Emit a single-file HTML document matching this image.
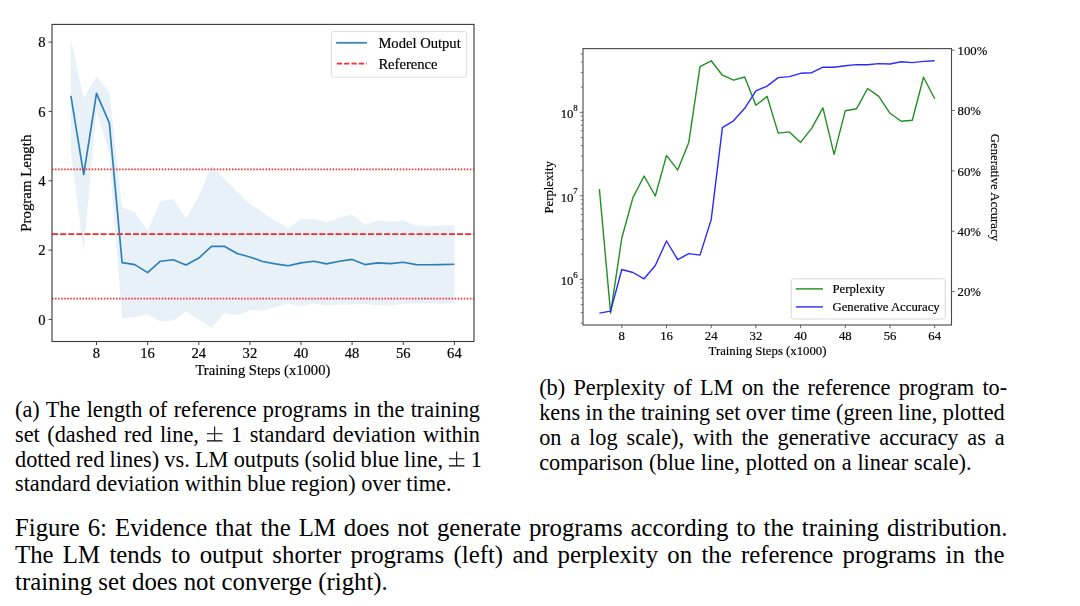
<!DOCTYPE html>
<html><head><meta charset="utf-8"><title>Figure 6</title>
<style>
html,body{margin:0;padding:0;background:#fff;}
body{width:1080px;height:606px;position:relative;overflow:hidden;font-family:"Liberation Serif",serif;color:#000;}
#charts{position:absolute;left:0;top:0;filter:blur(0.45px);}
#charts text{font-family:"Liberation Serif",serif;fill:#000;stroke:#000;stroke-width:0.18px;}
.ln{position:absolute;white-space:nowrap;text-align:justify;text-align-last:justify;height:30px;line-height:30px;}
.ln{word-spacing:-1.5px;}
.ln.last{text-align:left;text-align-last:left;word-spacing:0;}
.sub{font-size:22.3px;}
.pm{display:inline-block;vertical-align:baseline;margin-bottom:-0.6px;}
.main{font-size:24.8px;}
</style></head><body>
<svg id="charts" width="1080" height="606" viewBox="0 0 1080 606">
<polygon points="70.9,39.7 83.7,98.3 96.5,76.4 109.3,92.4 122.1,207.1 134.8,212.0 147.6,231.0 160.4,200.9 173.2,199.1 186.0,218.5 198.8,196.7 211.5,165.2 224.3,179.4 237.1,191.5 249.9,204.0 262.7,212.3 275.4,221.0 288.2,227.9 301.0,219.2 313.8,218.9 326.6,222.4 339.4,217.8 352.1,214.4 364.9,225.1 377.7,220.6 390.5,221.7 403.3,220.6 416.1,225.8 428.8,226.2 441.6,225.5 454.4,225.3 454.4,303.3 441.6,303.8 428.8,303.5 416.1,303.5 403.3,303.8 390.5,305.5 377.7,305.2 364.9,304.1 352.1,304.5 339.4,304.5 326.6,305.5 313.8,303.5 301.0,306.6 288.2,303.5 275.4,306.9 262.7,310.7 249.9,310.0 237.1,315.6 224.3,313.2 211.5,327.4 198.8,319.4 186.0,311.4 173.2,320.4 160.4,321.5 147.6,314.2 134.8,317.3 122.1,318.0 109.3,153.4 96.5,110.4 83.7,250.8 70.9,152.0" fill="#e8f0f8"/>
<polyline points="70.9,95.8 83.7,174.5 96.5,93.4 109.3,122.9 122.1,262.6 134.8,264.6 147.6,272.6 160.4,261.2 173.2,259.8 186.0,265.0 198.8,258.1 211.5,246.3 224.3,246.3 237.1,253.5 249.9,257.0 262.7,261.5 275.4,263.9 288.2,265.7 301.0,262.9 313.8,261.2 326.6,263.9 339.4,261.2 352.1,259.4 364.9,264.6 377.7,262.9 390.5,263.6 403.3,262.2 416.1,264.6 428.8,264.8 441.6,264.6 454.4,264.3" fill="none" stroke="#2d7fb8" stroke-width="1.65" stroke-linejoin="round"/>
<line x1="52.0" x2="474.0" y1="234.1" y2="234.1" stroke="#f52a2a" stroke-width="1.9" stroke-dasharray="6.1 2.0"/>
<line x1="52.0" x2="474.0" y1="169.3" y2="169.3" stroke="#f52a2a" stroke-width="1.8" stroke-dasharray="1.5 1.55"/>
<line x1="52.0" x2="474.0" y1="298.6" y2="298.6" stroke="#f52a2a" stroke-width="1.8" stroke-dasharray="1.5 1.55"/>
<rect x="52.0" y="24.4" width="422.0" height="317.1" fill="none" stroke="#383838" stroke-width="1.1"/>
<line x1="48.5" x2="52.0" y1="319.4" y2="319.4" stroke="#444" stroke-width="1"/>
<text x="45.6" y="324.7" font-size="14.6" text-anchor="end">0</text>
<line x1="48.5" x2="52.0" y1="250.1" y2="250.1" stroke="#444" stroke-width="1"/>
<text x="45.6" y="255.4" font-size="14.6" text-anchor="end">2</text>
<line x1="48.5" x2="52.0" y1="180.8" y2="180.8" stroke="#444" stroke-width="1"/>
<text x="45.6" y="186.1" font-size="14.6" text-anchor="end">4</text>
<line x1="48.5" x2="52.0" y1="111.4" y2="111.4" stroke="#444" stroke-width="1"/>
<text x="45.6" y="116.7" font-size="14.6" text-anchor="end">6</text>
<line x1="48.5" x2="52.0" y1="42.1" y2="42.1" stroke="#444" stroke-width="1"/>
<text x="45.6" y="47.4" font-size="14.6" text-anchor="end">8</text>
<line x1="96.5" x2="96.5" y1="341.5" y2="345.0" stroke="#444" stroke-width="1"/>
<text x="96.5" y="358.1" font-size="14.6" text-anchor="middle">8</text>
<line x1="147.6" x2="147.6" y1="341.5" y2="345.0" stroke="#444" stroke-width="1"/>
<text x="147.6" y="358.1" font-size="14.6" text-anchor="middle">16</text>
<line x1="198.8" x2="198.8" y1="341.5" y2="345.0" stroke="#444" stroke-width="1"/>
<text x="198.8" y="358.1" font-size="14.6" text-anchor="middle">24</text>
<line x1="249.9" x2="249.9" y1="341.5" y2="345.0" stroke="#444" stroke-width="1"/>
<text x="249.9" y="358.1" font-size="14.6" text-anchor="middle">32</text>
<line x1="301.0" x2="301.0" y1="341.5" y2="345.0" stroke="#444" stroke-width="1"/>
<text x="301.0" y="358.1" font-size="14.6" text-anchor="middle">40</text>
<line x1="352.1" x2="352.1" y1="341.5" y2="345.0" stroke="#444" stroke-width="1"/>
<text x="352.1" y="358.1" font-size="14.6" text-anchor="middle">48</text>
<line x1="403.3" x2="403.3" y1="341.5" y2="345.0" stroke="#444" stroke-width="1"/>
<text x="403.3" y="358.1" font-size="14.6" text-anchor="middle">56</text>
<line x1="454.4" x2="454.4" y1="341.5" y2="345.0" stroke="#444" stroke-width="1"/>
<text x="454.4" y="358.1" font-size="14.6" text-anchor="middle">64</text>
<text x="262.9" y="375.0" font-size="14.6" text-anchor="middle">Training Steps (x1000)</text>
<text transform="translate(31.4 183.2) rotate(-90)" font-size="14.9" text-anchor="middle">Program Length</text>
<rect x="331.4" y="31.4" width="135.3" height="45.8" rx="2.5" fill="#fff" stroke="#dcdcdc" stroke-width="1"/>
<line x1="336.1" x2="366.9" y1="42.8" y2="42.8" stroke="#3a87c0" stroke-width="1.8"/>
<line x1="336.8" x2="366.9" y1="63.6" y2="63.6" stroke="#f52a2a" stroke-width="1.7" stroke-dasharray="5.2 2.13"/>
<text x="378.4" y="48.2" font-size="14.6">Model Output</text>
<text x="378.4" y="69.1" font-size="14.6">Reference</text>
<polyline points="599.4,189.1 610.6,313.1 621.8,238.0 633.0,197.4 644.1,176.0 655.3,196.0 666.5,155.4 677.7,170.1 688.8,142.4 700.0,66.7 711.2,60.8 722.4,75.2 733.5,80.2 744.7,77.0 755.9,105.3 767.1,96.4 778.2,133.1 789.4,131.9 800.6,142.4 811.8,128.1 822.9,107.9 834.1,154.3 845.3,110.7 856.5,108.8 867.6,88.5 878.8,96.4 890.0,113.3 901.2,121.2 912.3,120.2 923.5,77.2 934.7,98.8" fill="none" stroke="#218f21" stroke-width="1.4" stroke-linejoin="round"/>
<polyline points="599.4,313.1 610.6,311.1 621.8,269.5 633.0,272.5 644.1,278.8 655.3,265.5 666.5,241.0 677.7,259.7 688.8,253.6 700.0,255.1 711.2,219.6 722.4,127.7 733.5,120.8 744.7,108.3 755.9,90.9 767.1,86.1 778.2,77.6 789.4,76.6 800.6,73.3 811.8,72.7 822.9,67.1 834.1,67.3 845.3,65.7 856.5,64.6 867.6,64.8 878.8,63.6 890.0,64.0 901.2,61.8 912.3,62.6 923.5,61.4 934.7,60.8" fill="none" stroke="#2a2aff" stroke-width="1.4" stroke-linejoin="round"/>
<rect x="583.0" y="48.6" width="368.5" height="276.4" fill="none" stroke="#484848" stroke-width="1.1"/>
<line x1="579.8" x2="583.0" y1="279.4" y2="279.4" stroke="#555" stroke-width="0.9"/>
<text x="560.7" y="285.2" font-size="12.75">10</text>
<text x="573.2" y="277.6" font-size="8.9">6</text>
<line x1="579.8" x2="583.0" y1="195.8" y2="195.8" stroke="#555" stroke-width="0.9"/>
<text x="560.7" y="201.6" font-size="12.75">10</text>
<text x="573.2" y="194.0" font-size="8.9">7</text>
<line x1="579.8" x2="583.0" y1="112.3" y2="112.3" stroke="#555" stroke-width="0.9"/>
<text x="560.7" y="118.1" font-size="12.75">10</text>
<text x="573.2" y="110.5" font-size="8.9">8</text>
<line x1="580.8" x2="583.0" y1="323.1" y2="323.1" stroke="#555" stroke-width="0.8"/>
<line x1="580.8" x2="583.0" y1="312.6" y2="312.6" stroke="#555" stroke-width="0.8"/>
<line x1="580.8" x2="583.0" y1="304.6" y2="304.6" stroke="#555" stroke-width="0.8"/>
<line x1="580.8" x2="583.0" y1="297.9" y2="297.9" stroke="#555" stroke-width="0.8"/>
<line x1="580.8" x2="583.0" y1="292.3" y2="292.3" stroke="#555" stroke-width="0.8"/>
<line x1="580.8" x2="583.0" y1="287.5" y2="287.5" stroke="#555" stroke-width="0.8"/>
<line x1="580.8" x2="583.0" y1="283.2" y2="283.2" stroke="#555" stroke-width="0.8"/>
<line x1="580.8" x2="583.0" y1="254.2" y2="254.2" stroke="#555" stroke-width="0.8"/>
<line x1="580.8" x2="583.0" y1="239.5" y2="239.5" stroke="#555" stroke-width="0.8"/>
<line x1="580.8" x2="583.0" y1="229.1" y2="229.1" stroke="#555" stroke-width="0.8"/>
<line x1="580.8" x2="583.0" y1="221.0" y2="221.0" stroke="#555" stroke-width="0.8"/>
<line x1="580.8" x2="583.0" y1="214.4" y2="214.4" stroke="#555" stroke-width="0.8"/>
<line x1="580.8" x2="583.0" y1="208.8" y2="208.8" stroke="#555" stroke-width="0.8"/>
<line x1="580.8" x2="583.0" y1="203.9" y2="203.9" stroke="#555" stroke-width="0.8"/>
<line x1="580.8" x2="583.0" y1="199.7" y2="199.7" stroke="#555" stroke-width="0.8"/>
<line x1="580.8" x2="583.0" y1="170.7" y2="170.7" stroke="#555" stroke-width="0.8"/>
<line x1="580.8" x2="583.0" y1="156.0" y2="156.0" stroke="#555" stroke-width="0.8"/>
<line x1="580.8" x2="583.0" y1="145.5" y2="145.5" stroke="#555" stroke-width="0.8"/>
<line x1="580.8" x2="583.0" y1="137.5" y2="137.5" stroke="#555" stroke-width="0.8"/>
<line x1="580.8" x2="583.0" y1="130.8" y2="130.8" stroke="#555" stroke-width="0.8"/>
<line x1="580.8" x2="583.0" y1="125.2" y2="125.2" stroke="#555" stroke-width="0.8"/>
<line x1="580.8" x2="583.0" y1="120.4" y2="120.4" stroke="#555" stroke-width="0.8"/>
<line x1="580.8" x2="583.0" y1="116.1" y2="116.1" stroke="#555" stroke-width="0.8"/>
<line x1="580.8" x2="583.0" y1="87.1" y2="87.1" stroke="#555" stroke-width="0.8"/>
<line x1="580.8" x2="583.0" y1="72.4" y2="72.4" stroke="#555" stroke-width="0.8"/>
<line x1="580.8" x2="583.0" y1="62.0" y2="62.0" stroke="#555" stroke-width="0.8"/>
<line x1="580.8" x2="583.0" y1="53.9" y2="53.9" stroke="#555" stroke-width="0.8"/>
<line x1="621.8" x2="621.8" y1="325.0" y2="328.2" stroke="#555" stroke-width="0.9"/>
<text x="621.8" y="340.4" font-size="12.75" text-anchor="middle">8</text>
<line x1="666.5" x2="666.5" y1="325.0" y2="328.2" stroke="#555" stroke-width="0.9"/>
<text x="666.5" y="340.4" font-size="12.75" text-anchor="middle">16</text>
<line x1="711.2" x2="711.2" y1="325.0" y2="328.2" stroke="#555" stroke-width="0.9"/>
<text x="711.2" y="340.4" font-size="12.75" text-anchor="middle">24</text>
<line x1="755.9" x2="755.9" y1="325.0" y2="328.2" stroke="#555" stroke-width="0.9"/>
<text x="755.9" y="340.4" font-size="12.75" text-anchor="middle">32</text>
<line x1="800.6" x2="800.6" y1="325.0" y2="328.2" stroke="#555" stroke-width="0.9"/>
<text x="800.6" y="340.4" font-size="12.75" text-anchor="middle">40</text>
<line x1="845.3" x2="845.3" y1="325.0" y2="328.2" stroke="#555" stroke-width="0.9"/>
<text x="845.3" y="340.4" font-size="12.75" text-anchor="middle">48</text>
<line x1="890.0" x2="890.0" y1="325.0" y2="328.2" stroke="#555" stroke-width="0.9"/>
<text x="890.0" y="340.4" font-size="12.75" text-anchor="middle">56</text>
<line x1="934.7" x2="934.7" y1="325.0" y2="328.2" stroke="#555" stroke-width="0.9"/>
<text x="934.7" y="340.4" font-size="12.75" text-anchor="middle">64</text>
<line x1="951.5" x2="954.7" y1="291.6" y2="291.6" stroke="#555" stroke-width="0.9"/>
<text x="957.5" y="296.2" font-size="12.75">20%</text>
<line x1="951.5" x2="954.7" y1="231.2" y2="231.2" stroke="#555" stroke-width="0.9"/>
<text x="957.5" y="235.8" font-size="12.75">40%</text>
<line x1="951.5" x2="954.7" y1="170.9" y2="170.9" stroke="#555" stroke-width="0.9"/>
<text x="957.5" y="175.5" font-size="12.75">60%</text>
<line x1="951.5" x2="954.7" y1="110.5" y2="110.5" stroke="#555" stroke-width="0.9"/>
<text x="957.5" y="115.1" font-size="12.75">80%</text>
<line x1="951.5" x2="954.7" y1="50.2" y2="50.2" stroke="#555" stroke-width="0.9"/>
<text x="957.5" y="54.8" font-size="12.75">100%</text>
<text x="767.5" y="355" font-size="12.75" text-anchor="middle">Training Steps (x1000)</text>
<text transform="translate(553.2 187.4) rotate(-90)" font-size="12.75" text-anchor="middle">Perplexity</text>
<text transform="translate(990.5 187.4) rotate(90)" font-size="12.75" text-anchor="middle">Generative Accuracy</text>
<rect x="791.3" y="278.8" width="154" height="40.2" rx="2.2" fill="#fff" stroke="#d8d8d8" stroke-width="1"/>
<line x1="795.8" x2="823" y1="288.9" y2="288.9" stroke="#218f21" stroke-width="1.4"/>
<line x1="795.8" x2="823" y1="306.9" y2="306.9" stroke="#2a2aff" stroke-width="1.4"/>
<text x="832.5" y="293" font-size="12.75">Perplexity</text>
<text x="832.5" y="311" font-size="12.75">Generative Accuracy</text>
</svg>
<div class="ln sub" style="left:15px;width:465px;top:395.00px">(a) The length of reference programs in the training</div>
<div class="ln sub" style="left:15px;width:465px;top:419.75px">set (dashed red line, <svg class="pm" width="17.3" height="16" viewBox="0 0 17.3 16"><path d="M8.65 0.6V14.6M0.9 7.7H16.4M0.9 14.9H16.4" stroke="#000" stroke-width="1.05" fill="none"/></svg> 1 standard deviation within</div>
<div class="ln sub" style="left:15px;width:467px;top:444.50px">dotted red lines) vs. LM outputs (solid blue line, <svg class="pm" width="17.3" height="16" viewBox="0 0 17.3 16"><path d="M8.65 0.6V14.6M0.9 7.7H16.4M0.9 14.9H16.4" stroke="#000" stroke-width="1.05" fill="none"/></svg> 1</div>
<div class="ln sub last" style="left:15px;width:465px;top:469.25px">standard deviation within blue region) over time.</div>
<div class="ln sub" style="left:539.2px;width:468px;top:373.30px">(b) Perplexity of LM on the reference program to-</div>
<div class="ln sub" style="left:539.2px;width:465.5px;top:398.05px">kens in the training set over time (green line, plotted</div>
<div class="ln sub" style="left:539.2px;width:465.5px;top:422.80px">on a log scale), with the generative accuracy as a</div>
<div class="ln sub last" style="left:539.2px;word-spacing:0.3px;width:465.5px;top:448.00px">comparison (blue line, plotted on a linear scale).</div>
<div class="ln main" style="left:15px;width:992.5px;top:513.00px">Figure 6: Evidence that the LM does not generate programs according to the training distribution.</div>
<div class="ln main" style="left:15px;width:989.5px;top:540.00px">The LM tends to output shorter programs (left) and perplexity on the reference programs in the</div>
<div class="ln main last" style="left:15px;width:989.5px;top:567.10px">training set does not converge (right).</div>
</body></html>
